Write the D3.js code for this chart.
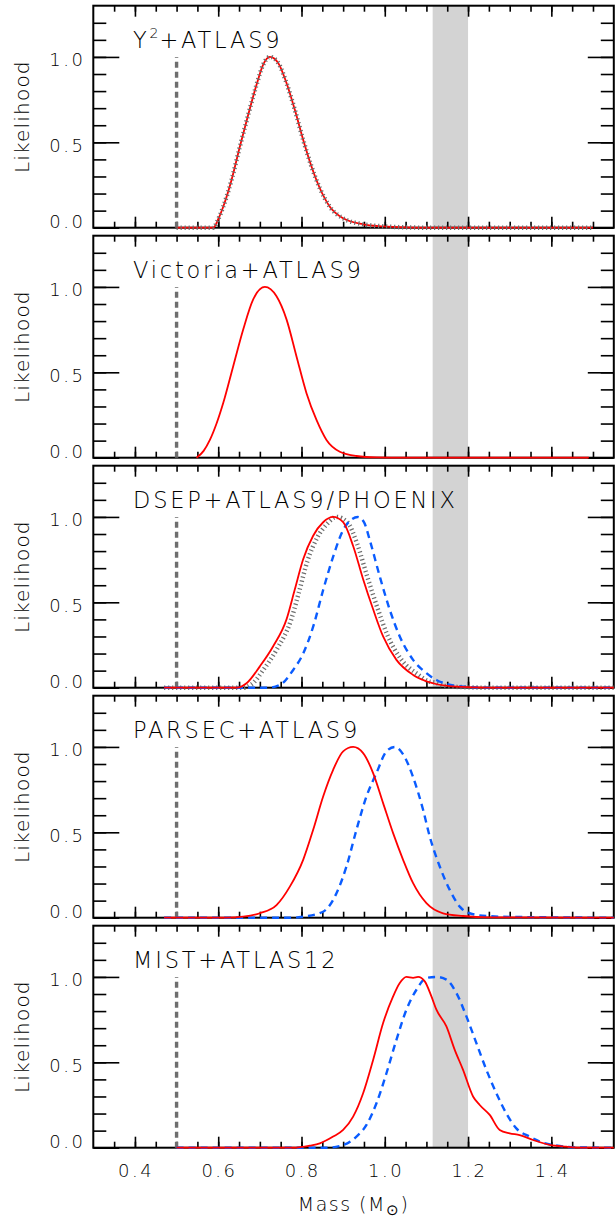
<!DOCTYPE html>
<html>
<head>
<meta charset="utf-8">
<script src="https://d3js.org/d3.v7.min.js"></script>
<style>
body {margin:0; background:#fff;}
svg text {font-family:"DejaVu Sans", "Liberation Sans", Arial, sans-serif; font-weight:200; fill:#000;}
</style>
</head>
<body>
<div id="chart"></div>
<script>
// panel titles ("^" marks a superscript)
var panelNames = ["Y^2+ATLAS9", "Victoria+ATLAS9", "DSEP+ATLAS9/PHOENIX", "PARSEC+ATLAS9", "MIST+ATLAS12"];

// axis ticks
var xTickValues = [0.4, 0.6, 0.8, 1.0, 1.2, 1.4];
var yTickValues = [0.0, 0.5, 1.0];
var limitMass = 0.5;          // dashed vertical line
var massBand = [1.115, 1.2];  // grey band

// likelihood curves, [mass, likelihood]
var y2Red = [[0.50,0],[0.588,0],[0.60,0.05],[0.612,0.123],[0.632,0.28],[0.652,0.475],[0.672,0.661],[0.692,0.837],[0.708,0.955],[0.724,1.0],[0.744,0.965],[0.764,0.847],[0.784,0.69],[0.804,0.515],[0.824,0.358],[0.844,0.231],[0.868,0.123],[0.90,0.055],[0.948,0.02],[0.996,0.008],[1.05,0.002],[1.10,0],[1.50,0]];
var y2Gray = [[0.50,0],[0.588,0],[0.60,0.05],[0.612,0.123],[0.632,0.28],[0.652,0.475],[0.672,0.661],[0.692,0.837],[0.708,0.955],[0.724,1.0],[0.744,0.965],[0.764,0.847],[0.784,0.69],[0.804,0.515],[0.824,0.358],[0.844,0.231],[0.868,0.123],[0.90,0.055],[0.948,0.02],[0.996,0.008],[1.05,0.002],[1.10,0],[1.50,0]];

var victoriaRed = [[0.548,0],[0.565,0.04],[0.58,0.104],[0.596,0.2],[0.612,0.32],[0.636,0.536],[0.66,0.751],[0.684,0.927],[0.712,1.0],[0.74,0.945],[0.764,0.81],[0.788,0.593],[0.812,0.378],[0.836,0.221],[0.86,0.104],[0.892,0.035],[0.932,0.01],[0.98,0.002],[1.05,0],[1.49,0]];

var dsepRed = [[0.47,0],[0.645,0],[0.668,0.026],[0.70,0.125],[0.732,0.243],[0.764,0.40],[0.784,0.576],[0.804,0.752],[0.828,0.89],[0.852,0.969],[0.876,1.0],[0.90,0.969],[0.924,0.83],[0.948,0.635],[0.972,0.459],[0.996,0.30],[1.028,0.163],[1.068,0.075],[1.116,0.026],[1.172,0.006],[1.25,0],[1.55,0]];
var dsepGray = [[0.47,0],[0.66,0],[0.68,0.02],[0.71,0.11],[0.742,0.23],[0.774,0.39],[0.794,0.56],[0.814,0.74],[0.838,0.88],[0.862,0.96],[0.884,1.0],[0.91,0.97],[0.934,0.84],[0.958,0.65],[0.982,0.47],[1.006,0.31],[1.038,0.17],[1.078,0.08],[1.108,0.035],[1.122,0.03],[1.14,0.012],[1.18,0.004],[1.25,0],[1.55,0]];
var dsepBlue = [[0.47,0],[0.72,0],[0.748,0.016],[0.78,0.104],[0.804,0.20],[0.828,0.357],[0.852,0.572],[0.876,0.767],[0.90,0.923],[0.92,0.985],[0.935,1.0],[0.95,0.97],[0.964,0.864],[0.988,0.651],[1.012,0.456],[1.036,0.30],[1.068,0.163],[1.10,0.085],[1.124,0.045],[1.148,0.022],[1.19,0.006],[1.25,0],[1.55,0]];

var parsecRed = [[0.47,0],[0.62,0],[0.66,0.006],[0.70,0.026],[0.74,0.074],[0.772,0.182],[0.804,0.339],[0.828,0.515],[0.852,0.71],[0.876,0.866],[0.90,0.974],[0.924,1.0],[0.948,0.964],[0.972,0.847],[0.996,0.671],[1.02,0.495],[1.044,0.339],[1.068,0.202],[1.10,0.085],[1.14,0.026],[1.188,0.01],[1.25,0.002],[1.55,0]];
var parsecBlue = [[0.47,0],[0.78,0],[0.804,0.006],[0.852,0.035],[0.884,0.143],[0.908,0.30],[0.932,0.515],[0.956,0.71],[0.98,0.847],[1.004,0.974],[1.024,1.0],[1.048,0.94],[1.068,0.823],[1.092,0.632],[1.108,0.475],[1.132,0.30],[1.156,0.163],[1.18,0.065],[1.204,0.026],[1.244,0.01],[1.30,0.005],[1.55,0]];

var mistRed = [[0.50,0],[0.78,0],[0.82,0.012],[0.844,0.025],[0.876,0.065],[0.90,0.104],[0.924,0.182],[0.948,0.319],[0.972,0.514],[0.996,0.73],[1.02,0.886],[1.036,0.964],[1.052,1.0],[1.068,0.995],[1.08,1.0],[1.096,0.974],[1.112,0.886],[1.124,0.808],[1.148,0.71],[1.168,0.573],[1.188,0.456],[1.212,0.30],[1.228,0.25],[1.252,0.192],[1.276,0.104],[1.30,0.084],[1.324,0.074],[1.356,0.045],[1.396,0.016],[1.436,0.006],[1.48,0],[1.55,0]];
var mistBlue = [[0.50,0],[0.86,0],[0.90,0.016],[0.932,0.065],[0.956,0.133],[0.98,0.26],[1.004,0.436],[1.028,0.632],[1.052,0.808],[1.076,0.925],[1.10,0.994],[1.124,1.0],[1.148,0.984],[1.172,0.906],[1.196,0.769],[1.22,0.612],[1.244,0.456],[1.268,0.319],[1.292,0.20],[1.316,0.113],[1.348,0.065],[1.38,0.029],[1.42,0.01],[1.46,0.002],[1.55,0]];

var panelCurves = [
	[{d:y2Red, s:"red"}, {d:y2Gray, s:"gray"}],
	[{d:victoriaRed, s:"red"}],
	[{d:dsepGray, s:"gray"}, {d:dsepBlue, s:"blue"}, {d:dsepRed, s:"red"}],
	[{d:parsecBlue, s:"blue"}, {d:parsecRed, s:"red"}],
	[{d:mistBlue, s:"blue"}, {d:mistRed, s:"red"}]
];

var styles = {
	red:  {color:"#ff0000", width:1.8, dash:null},
	blue: {color:"#0a5cff", width:2.4, dash:"7,5"},
	gray: {color:"#6e6e6e", width:4.5, dash:"1.2,2.8"}
};

var W = 615, H = 1222;
var top0 = 5.7, panelH = 222, pitch = 230;

var svg = d3.select("#chart").append("svg")
	.attr("width", W)
	.attr("height", H);

var x = d3.scaleLinear().domain([0.3, 1.55]).range([93.3, 613.8]);
var y = d3.scaleLinear().domain([0, 1.3]).range([panelH, 0]);

var line = d3.line()
	.x(function(d) {return x(d[0]);})
	.y(function(d) {return y(d[1]);})
	.curve(d3.curveMonotoneX);

var xMinor = d3.range(0.35, 1.5499, 0.05);
var yMinor = d3.range(0.1, 1.2999, 0.1);

panelNames.forEach(function(name, i) {
	var g = svg.append("g").attr("transform", "translate(0," + (top0 + i*pitch) + ")");

	// grey band
	g.append("rect")
		.attr("x", x(massBand[0]))
		.attr("width", x(massBand[1]) - x(massBand[0]))
		.attr("y", 0)
		.attr("height", panelH)
		.attr("fill", "#d3d3d3");

	// ticks (pointing inward)
	function addAxis(axis, tx, ty) {
		var a = g.append("g").attr("transform", "translate(" + tx + "," + ty + ")").call(axis);
		a.select(".domain").remove();
		a.selectAll("line").attr("stroke", "#000").attr("stroke-width", 1.6);
		a.selectAll("text").remove();
	}
	addAxis(d3.axisBottom(x).tickValues(xTickValues).tickSize(-11), 0, panelH);
	addAxis(d3.axisBottom(x).tickValues(xMinor).tickSize(-6), 0, panelH);
	addAxis(d3.axisTop(x).tickValues(xTickValues).tickSize(-11), 0, 0);
	addAxis(d3.axisTop(x).tickValues(xMinor).tickSize(-6), 0, 0);
	addAxis(d3.axisLeft(y).tickValues(yTickValues).tickSize(-26), x.range()[0], 0);
	addAxis(d3.axisLeft(y).tickValues(yMinor).tickSize(-13), x.range()[0], 0);
	addAxis(d3.axisRight(y).tickValues(yTickValues).tickSize(-26), x.range()[1], 0);
	addAxis(d3.axisRight(y).tickValues(yMinor).tickSize(-13), x.range()[1], 0);

	// frame
	g.append("rect")
		.attr("x", x.range()[0])
		.attr("y", 0)
		.attr("width", x.range()[1] - x.range()[0])
		.attr("height", panelH)
		.attr("fill", "none")
		.attr("stroke", "#000")
		.attr("stroke-width", 2);

	// dashed limit line
	g.append("line")
		.attr("x1", x(limitMass)).attr("x2", x(limitMass))
		.attr("y1", y(0)).attr("y2", y(1.0))
		.attr("stroke", "#6e6e6e")
		.attr("stroke-width", 3.4)
		.attr("stroke-dasharray", "6,4");

	// curves
	panelCurves[i].forEach(function(c) {
		var st = styles[c.s];
		g.append("path")
			.datum(c.d)
			.attr("d", line)
			.attr("fill", "none")
			.attr("stroke", st.color)
			.attr("stroke-width", st.width)
			.attr("stroke-dasharray", st.dash);
	});

	// y tick labels
	g.selectAll(".ylab").data(yTickValues).enter()
		.append("text")
		.attr("x", 83 + 2.5)
		.attr("y", function(d) {return d == 0 ? y(d) + 0.6 : y(d) + 9.5;})
		.attr("text-anchor", "end")
		.attr("font-size", "18px")
		.attr("letter-spacing", "2.5px")
		.text(function(d) {return d3.format(".1f")(d);});

	// y axis title
	g.append("text")
		.attr("transform", "translate(28.5," + (panelH/2) + ") rotate(-90)")
		.attr("text-anchor", "middle")
		.attr("font-size", "20px")
		.attr("letter-spacing", "1.2px")
		.text("Likelihood");

	// panel title
	var parts = name.split("^");
	var t = g.append("text")
		.attr("x", 133)
		.attr("y", 42.6)
		.attr("font-size", "22.5px")
		.attr("letter-spacing", "2.8px");
	if (parts.length > 1) {
		t.append("tspan").text(parts[0]);
		t.append("tspan").attr("dy", -10).attr("font-size", "14px").attr("letter-spacing", "1px").text(parts[1][0]);
		t.append("tspan").attr("dy", 10).text(parts[1].slice(1));
	} else {
		t.text(name);
	}

	// x tick labels on the bottom panel
	if (i == panelNames.length - 1) {
		g.selectAll(".xlab").data(xTickValues).enter()
			.append("text")
			.attr("x", function(d) {return x(d) + 1.25;})
			.attr("y", panelH + 29)
			.attr("text-anchor", "middle")
			.attr("font-size", "18px")
			.attr("letter-spacing", "2.5px")
			.text(function(d) {return d3.format(".1f")(d);});

		var xt = g.append("text")
			.attr("x", (x.range()[0] + x.range()[1]) / 2)
			.attr("y", panelH + 63)
			.attr("text-anchor", "middle")
			.attr("font-size", "19px")
			.attr("letter-spacing", "1.5px");
		xt.append("tspan").text("Mass (M");
		xt.append("tspan").attr("dy", 4).attr("font-size", "15px").text("\u2299");
		xt.append("tspan").attr("dy", -4).text(")");
	}
});
</script>
</body>
</html>
